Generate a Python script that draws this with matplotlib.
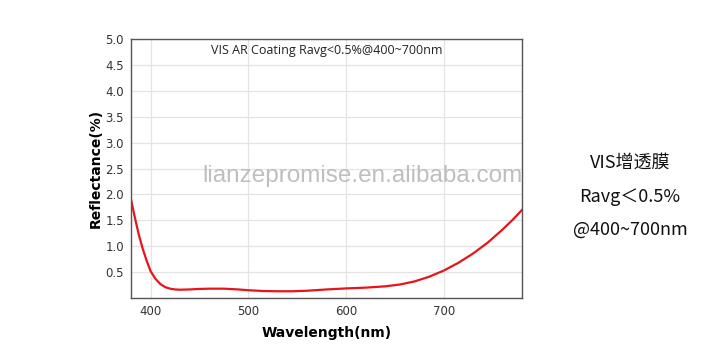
import matplotlib.pyplot as plt

# readings
wavelength = [380, 384, 388, 392, 396, 400, 405, 410, 415, 420, 425, 430, 440, 450, 460,
              475, 490, 500, 515, 530, 545, 560, 580, 600, 620, 640, 655, 670, 685, 700,
              715, 730, 745, 760, 770, 780]
reflectance = [1.90, 1.55, 1.22, 0.95, 0.72, 0.52, 0.37, 0.27, 0.21, 0.18, 0.165, 0.16, 0.165, 0.175, 0.18,
               0.18, 0.165, 0.15, 0.135, 0.13, 0.13, 0.14, 0.165, 0.185, 0.20, 0.225, 0.26, 0.32, 0.41, 0.53,
               0.68, 0.86, 1.07, 1.32, 1.50, 1.70]

xticks = [400, 500, 600, 700]
yticks = [0.5, 1.0, 1.5, 2.0, 2.5, 3.0, 3.5, 4.0, 4.5, 5.0]

title = "VIS AR Coating Ravg<0.5%@400~700nm"
side_lines = ["VIS增透膜", "Ravg＜0.5%", "@400~700nm"]

fig = plt.figure(figsize=(7.26, 3.5), dpi=100)
ax = fig.add_axes([131 / 726, 1 - 298 / 350, (522 - 131) / 726, (298 - 39) / 350])

ax.plot(wavelength, reflectance, color="#e8141b", lw=1.6)

ax.set_xlim(380, 780)
ax.set_ylim(0, 5)
ax.set_xticks(xticks)
ax.set_yticks(yticks)
ax.set_yticklabels([f"{v:.1f}" for v in yticks])
ax.grid(True, color="#e4e4e4", lw=0.9)
ax.set_axisbelow(True)
ax.tick_params(length=0, labelsize=8.5, labelcolor="#333333", pad=5)
for s in ax.spines.values():
    s.set_color("#555555")
    s.set_linewidth(1.0)

ax.text(0.5, 0.955, title, transform=ax.transAxes, ha="center", va="center",
        fontsize=9, family="Open Sans", color="#222222")

ax.set_ylabel("Reflectance(%)", fontsize=10, fontweight="bold", labelpad=2)
ax.set_xlabel("Wavelength(nm)", fontsize=10, fontweight="bold", labelpad=6)

# watermark
fig.text(363 / 726, 1 - 176 / 350, "lianzepromise.en.alibaba.com", ha="center", va="center",
         fontsize=17.5, family="Liberation Sans", color="#b8b8b8", alpha=0.9)

fam = ["Noto Sans CJK SC", "DejaVu Sans"]
for i, line in enumerate(side_lines):
    fig.text(630 / 726, 1 - (163 + 33.5 * i) / 350, line, ha="center", va="center",
             fontsize=13, family=fam, color="#111111")

fig.savefig("out.png", dpi=100, facecolor="white")
